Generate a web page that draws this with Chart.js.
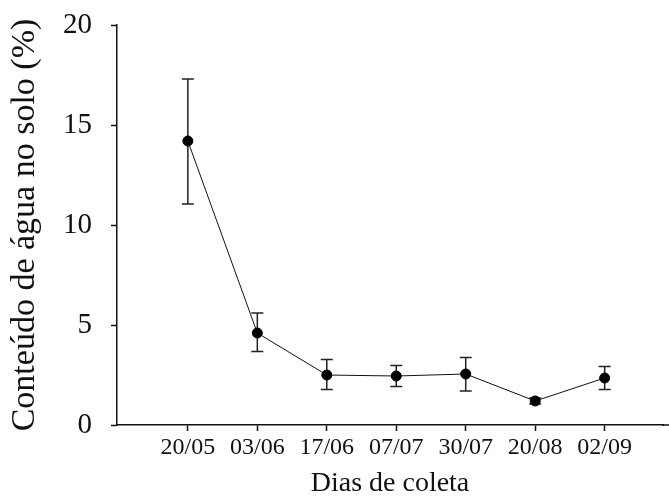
<!DOCTYPE html>
<html>
<head>
<meta charset="utf-8">
<script src="https://cdn.jsdelivr.net/npm/chart.js@4"></script>
<style>
  html, body { margin: 0; padding: 0; background: #fff; }
  #wrap { width: 669px; height: 500px; }
</style>
</head>
<body>
<div id="wrap"><canvas id="aguaChart" width="669" height="500"></canvas></div>
<script>
// dados
var dias = ['20/05', '03/06', '17/06', '07/07', '30/07', '20/08', '02/09'];
var agua = [14.2, 4.6, 2.5, 2.45, 2.55, 1.2, 2.35];
var erroSup = [17.3, 5.6, 3.27, 2.98, 3.38, 1.35, 2.92];
var erroInf = [11.05, 3.67, 1.77, 1.92, 1.7, 1.05, 1.77];
var yTicks = [0, 5, 10, 15, 20];

var serif = '"Liberation Serif", "Times New Roman", serif';

// barras de erro + eixo x ate a borda
var errorBars = {
  id: 'errorBars',
  beforeDatasetsDraw: function(chart) {
    var ctx = chart.ctx;
    var xs = chart.scales.x, ys = chart.scales.y;
    ctx.save();
    ctx.strokeStyle = '#111';
    ctx.lineWidth = 1.5;
    var yb = chart.chartArea.bottom;
    ctx.beginPath();
    ctx.moveTo(chart.chartArea.right - 1, yb);
    ctx.lineTo(chart.width, yb);
    ctx.stroke();
    ctx.strokeStyle = '#222';
    for (var i = 0; i < dias.length; i++) {
      var x = xs.getPixelForValue(i);
      var top = ys.getPixelForValue(erroSup[i]);
      var bot = ys.getPixelForValue(erroInf[i]);
      ctx.beginPath();
      ctx.moveTo(x, top); ctx.lineTo(x, bot);
      ctx.moveTo(x - 6, top); ctx.lineTo(x + 6, top);
      ctx.moveTo(x - 6, bot); ctx.lineTo(x + 6, bot);
      ctx.stroke();
    }
    ctx.restore();
  }
};

function noPad(scale) {
  scale.paddingLeft = 0; scale.paddingRight = 0;
  scale.paddingTop = 0; scale.paddingBottom = 0;
}

var ctx = document.getElementById('aguaChart').getContext('2d');
var aguaChart = new Chart(ctx, {
  type: 'line',
  data: {
    datasets: [{
      data: agua.map(function(v, i) { return { x: i, y: v }; }),
      borderColor: '#111',
      borderWidth: 1,
      backgroundColor: '#000',
      pointBackgroundColor: '#000',
      pointBorderColor: '#000',
      pointRadius: 5,
      tension: 0,
      clip: false
    }]
  },
  options: {
    responsive: false,
    animation: false,
    layout: { padding: { top: 25, right: 0, left: 0, bottom: 0 } },
    plugins: { legend: { display: false }, tooltip: { enabled: false } },
    scales: {
      x: {
        type: 'linear',
        min: -1.02,
        max: 6.84,
        afterBuildTicks: function(scale) {
          scale.ticks = dias.map(function(d, i) { return { value: i }; });
        },
        afterFit: function(scale) {
          scale.height = 75;
          noPad(scale);
        },
        ticks: {
          callback: function(v) { return dias[v]; },
          color: '#111',
          font: { family: serif, size: 24 },
          padding: 2,
          maxRotation: 0,
          autoSkip: false
        },
        grid: { drawOnChartArea: false, drawTicks: true, tickLength: 6, color: '#111', tickWidth: 1.5 },
        border: { color: '#111', width: 1.5 },
        title: {
          display: true,
          text: 'Dias de coleta',
          color: '#111',
          font: { family: serif, size: 28 },
          padding: 0
        }
      },
      y: {
        min: 0,
        max: 20,
        afterBuildTicks: function(scale) {
          scale.ticks = yTicks.map(function(v) { return { value: v }; });
        },
        afterFit: function(scale) {
          scale.width = 117;
          noPad(scale);
        },
        ticks: {
          color: '#111',
          font: { family: serif, size: 29 },
          padding: 19
        },
        grid: { drawOnChartArea: false, drawTicks: true, tickLength: 6, color: '#111', tickWidth: 1.5 },
        border: { color: '#111', width: 1.5 },
        title: {
          display: true,
          text: 'Conteúdo de água no solo (%)',
          color: '#111',
          font: { family: serif, size: 34 },
          padding: { top: 5, bottom: 0 }
        }
      }
    }
  },
  plugins: [errorBars]
});
</script>
</body>
</html>
